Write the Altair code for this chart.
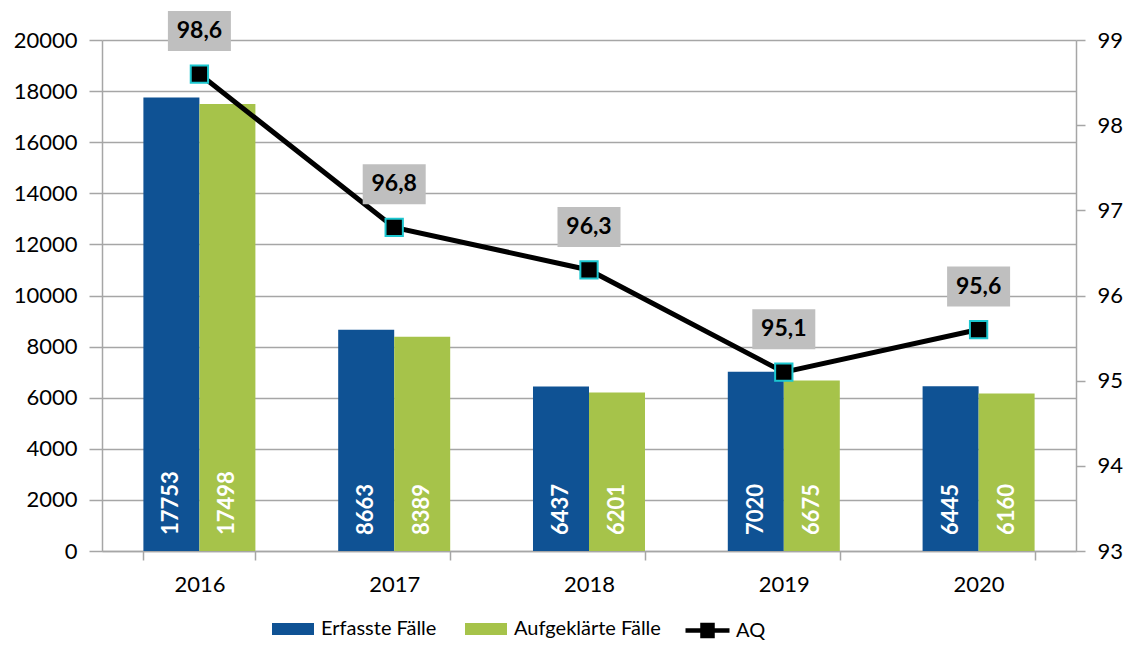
import altair as alt
import pandas as pd

years = ["2016", "2017", "2018", "2019", "2020"]
erfasst = [17753, 8663, 6437, 7020, 6445]
aufgeklaert = [17498, 8389, 6201, 6675, 6160]
aq = [98.6, 96.8, 96.3, 95.1, 95.6]
series_names = ["Erfasste Fälle", "Aufgeklärte Fälle"]
series_colors = ["#0F5294", "#A6C34A"]

rows = []
for i, y in enumerate(years):
    rows.append({"year": y, "series": series_names[0], "value": erfasst[i]})
    rows.append({"year": y, "series": series_names[1], "value": aufgeklaert[i]})
df_bars = pd.DataFrame(rows)
df_aq = pd.DataFrame({
    "year": years,
    "aq": aq,
    "label": [f"{v:.1f}".replace(".", ",") for v in aq],
    "name": ["AQ"] * len(years),
})

FONT = "Lato"
GRID = "#A6A6A6"
LEG_Y = 568

x_enc = alt.X(
    "year:N",
    sort=years,
    scale=alt.Scale(paddingInner=0.425, paddingOuter=0.2125),
    axis=alt.Axis(
        title=None, labelAngle=0, tickBand="extent", domainColor=GRID,
        domainWidth=1.5, tickColor=GRID, tickWidth=1.5, tickSize=9,
        labelPadding=14, labelFontSize=22,
    ),
)
xoff = alt.XOffset("series:N", sort=series_names,
                   scale=alt.Scale(domain=series_names, paddingInner=0, paddingOuter=0))

y_left = alt.Y(
    "value:Q",
    scale=alt.Scale(domain=[0, 20000], nice=False),
    axis=alt.Axis(
        title=None, values=list(range(0, 20001, 2000)), format="d", grid=True,
        gridColor=GRID, gridWidth=1.5, domainColor=GRID, domainWidth=1.5,
        tickColor=GRID, tickWidth=1.5, tickSize=13, labelPadding=12,
        labelFontSize=22,
    ),
)

rect_path = "M-1,-0.29L1,-0.29L1,0.29L-1,0.29Z"
bars = alt.Chart(df_bars).mark_bar().encode(
    x=x_enc,
    xOffset=xoff,
    y=y_left,
    color=alt.Color(
        "series:N",
        scale=alt.Scale(domain=series_names, range=series_colors),
        legend=alt.Legend(
            orient="none", legendX=170, legendY=LEG_Y, direction="horizontal",
            title=None, symbolType=rect_path, symbolSize=42 * 42,
            symbolStrokeWidth=0, labelFont=FONT, labelFontSize=20,
            labelColor="black", labelOffset=7, columnPadding=28,
        ),
    ),
)

bar_text = alt.Chart(df_bars).mark_text(
    angle=270, align="left", baseline="middle", dx=16,
    color="white", font=FONT, fontWeight="bold", fontSize=22,
).encode(
    x=x_enc,
    xOffset=xoff,
    y=alt.datum(0),
    text=alt.Text("value:Q", format="d"),
)

left_layer = alt.layer(bars, bar_text)

y_right = alt.Y(
    "aq:Q",
    scale=alt.Scale(domain=[93, 99], nice=False),
    axis=alt.Axis(
        title=None, orient="right", values=[93, 94, 95, 96, 97, 98, 99],
        grid=False, domainColor=GRID, domainWidth=1.5, tickColor=GRID,
        tickWidth=1.5, tickSize=9, labelPadding=12, labelFontSize=22,
    ),
)

line = alt.Chart(df_aq).mark_line(color="black", strokeWidth=5).encode(
    x=x_enc, y=y_right
)
points = alt.Chart(df_aq).mark_point(
    shape="square", filled=True, fill="black", stroke="#1CC7D0",
    strokeWidth=2, size=300, opacity=1,
).encode(x=x_enc, y=y_right)

box_path = "M-1,-0.635L1,-0.635L1,0.635L-1,0.635Z"
boxes = alt.Chart(df_aq).mark_point(
    shape=box_path, filled=True, color="#BFBFBF", size=63 * 63,
    yOffset=-43, opacity=1,
).encode(x=x_enc, y=y_right)

labels = alt.Chart(df_aq).mark_text(
    dy=-43, baseline="middle", align="center", font=FONT,
    fontWeight="bold", fontSize=23, color="black",
).encode(x=x_enc, y=y_right, text="label:N")

aq_path = ("M-1,-0.1L-0.33,-0.1L-0.33,-0.35L0.33,-0.35L0.33,-0.1L1,-0.1"
           "L1,0.1L0.33,0.1L0.33,0.35L-0.33,0.35L-0.33,0.1L-1,0.1Z")
legend_dummy = alt.Chart(df_aq).mark_point(
    opacity=0, filled=True, color="black"
).encode(
    x=x_enc,
    y=y_right,
    shape=alt.Shape(
        "name:N",
        scale=alt.Scale(domain=["AQ"], range=[aq_path]),
        legend=alt.Legend(
            orient="none", legendX=583, legendY=LEG_Y, title=None,
            symbolSize=44 * 44, symbolFillColor="black",
            symbolStrokeColor="#1CC7D0", symbolStrokeWidth=0.8,
            symbolOpacity=1, labelFont=FONT, labelFontSize=20,
            labelColor="black", labelOffset=6,
        ),
    ),
)

right_layer = alt.layer(line, points, boxes, labels, legend_dummy)

chart = alt.layer(left_layer, right_layer).resolve_scale(
    y="independent"
).properties(
    width=974, height=511,
    autosize=alt.AutoSizeParams(type="none"),
    padding={"left": 94, "top": 32, "right": 48, "bottom": 93},
).configure_axis(
    labelFont=FONT, labelColor="black",
).configure_view(strokeWidth=0)

chart.save("out.html", embed_options={"renderer": "svg", "actions": False})
